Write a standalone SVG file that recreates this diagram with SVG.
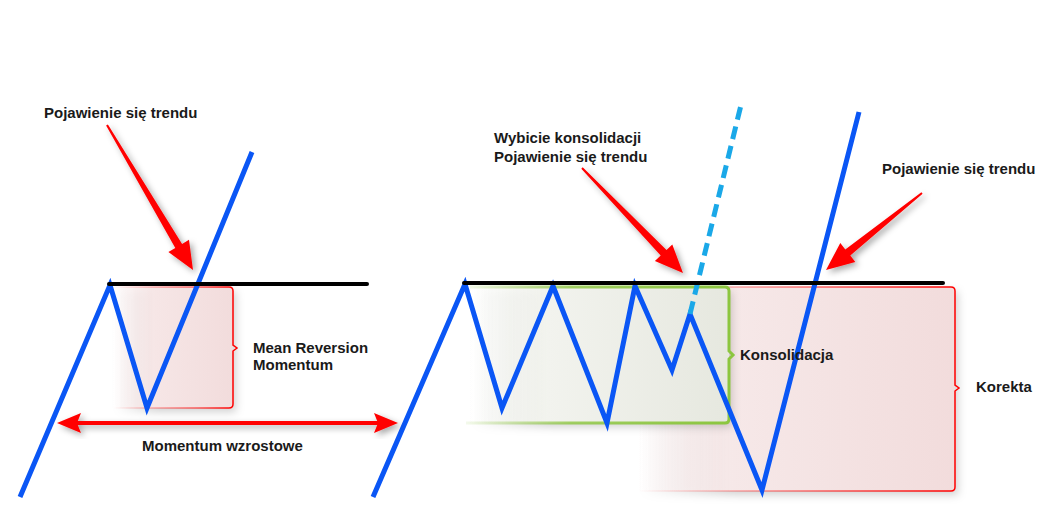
<svg xmlns="http://www.w3.org/2000/svg" width="1056" height="527" viewBox="0 0 1056 527">
<style>
.lbl{font-family:"Liberation Sans",Arial,sans-serif;font-weight:bold;font-size:15px;fill:#1a1a1a}
.blue{fill:none;stroke:#0a56f5;stroke-width:5;stroke-linejoin:miter;stroke-linecap:butt}
.blk{stroke:#000;stroke-width:4;stroke-linecap:round}
.redarrow{fill:#ff0000}
</style>
<defs>
<filter id="sh" x="-20%" y="-20%" width="150%" height="150%">
<feDropShadow dx="3" dy="3" stdDeviation="3" flood-color="#000" flood-opacity="0.35"/>
</filter>
<filter id="bsh" x="-10%" y="-10%" width="130%" height="130%">
<feDropShadow dx="3" dy="4" stdDeviation="4" flood-color="#000" flood-opacity="0.18"/>
</filter>
<linearGradient id="pinkL" gradientUnits="userSpaceOnUse" x1="113" y1="0" x2="233" y2="0">
<stop offset="0" stop-color="#f3dede" stop-opacity="0"/><stop offset="0.35" stop-color="#f6e6e6"/><stop offset="1" stop-color="#f2dcdc"/>
</linearGradient>
<linearGradient id="pinkLs" gradientUnits="userSpaceOnUse" x1="113" y1="0" x2="233" y2="0">
<stop offset="0" stop-color="#ff0000" stop-opacity="0"/><stop offset="0.7" stop-color="#ff0000" stop-opacity="0.6"/><stop offset="1" stop-color="#ff0000"/>
</linearGradient>
<linearGradient id="pinkK" gradientUnits="userSpaceOnUse" x1="638" y1="0" x2="955" y2="0">
<stop offset="0" stop-color="#f3dede" stop-opacity="0"/><stop offset="0.3" stop-color="#f6e8e8"/><stop offset="1" stop-color="#f2dcdc"/>
</linearGradient>
<linearGradient id="pinkKs" gradientUnits="userSpaceOnUse" x1="638" y1="0" x2="955" y2="0">
<stop offset="0" stop-color="#ff0000" stop-opacity="0"/><stop offset="0.5" stop-color="#ff0000" stop-opacity="0.5"/><stop offset="1" stop-color="#ff0000"/>
</linearGradient>
<linearGradient id="greenF" gradientUnits="userSpaceOnUse" x1="470" y1="0" x2="729" y2="0">
<stop offset="0" stop-color="#eef0e8" stop-opacity="0"/><stop offset="0.3" stop-color="#f2f3ee"/><stop offset="1" stop-color="#e6e8df"/>
</linearGradient>
<linearGradient id="greenS" gradientUnits="userSpaceOnUse" x1="466" y1="0" x2="729" y2="0">
<stop offset="0" stop-color="#8cc63f" stop-opacity="0.1"/><stop offset="0.4" stop-color="#8cc63f" stop-opacity="0.8"/><stop offset="1" stop-color="#8cc63f"/>
</linearGradient>
</defs>
<rect width="1056" height="527" fill="#fff"/>

<g id="box-mean-reversion">
<path d="M113,287 H229 Q233,287 233,291 V408 H113 Z" fill="url(#pinkL)" filter="url(#bsh)"/>
<path d="M113,287 H229 Q233,287 233,291 V345 L237,348 L233,351 V404 Q233,408 229,408 H113" fill="none" stroke="url(#pinkLs)" stroke-width="1.5"/>
</g>

<g id="box-korekta">
<path d="M638,287 H951 Q955,287 955,291 V491 H638 Z" fill="url(#pinkK)" filter="url(#bsh)"/>
<path d="M638,287 H951 Q955,287 955,291 V385 L959,388 L955,391 V487 Q955,491 951,491 H638" fill="none" stroke="url(#pinkKs)" stroke-width="1.5"/>
</g>

<g id="box-konsolidacja">
<path d="M470,287 H725 Q729,287 729,291 V423 H470 Z" fill="url(#greenF)" filter="url(#bsh)"/>
<path d="M470,287 H725 Q729,287 729,291 V351 L733,355 L729,359 V419 Q729,423 725,423 H466" fill="none" stroke="url(#greenS)" stroke-width="3"/>
</g>

<g id="price-lines">
<polyline class="blue" points="20,497 110,285 147,408 252,152"/>
<polyline class="blue" points="373,497 465,284 502,408 553,286 607,423 635,286 672,370 690,314 762,490 859,112"/>
<line x1="690" y1="314" x2="741" y2="105" stroke="#1aa8e8" stroke-width="5" stroke-dasharray="13 7"/>
</g>

<g id="resistance-lines">
<line class="blk" x1="109" y1="284" x2="367" y2="284"/>
<line class="blk" x1="464" y1="283" x2="943" y2="283"/>
</g>

<g id="connectors">
<polygon class="redarrow" filter="url(#sh)" points="106.1,125.5 175.3,247.9 168.4,252 193,270 189,239.8 182.1,243.9 107.9,124.5"/>
<polygon class="redarrow" filter="url(#sh)" points="581.3,168.7 660.7,255.6 654.9,261.1 683,273 672.3,244.5 666.5,250 582.7,167.3"/>
<polygon class="redarrow" filter="url(#sh)" points="921.4,192.2 845.3,249.4 840.3,243.1 826,270 855.3,261.9 850.3,255.6 922.6,193.8"/>
<g id="momentum-arrow" filter="url(#sh)">
<line x1="76" y1="423" x2="379" y2="423" stroke="#ff0000" stroke-width="4"/>
<polygon class="redarrow" points="57,423 81,413 77,423 81,433"/>
<polygon class="redarrow" points="398,423 374,413 378,423 374,433"/>
</g>
</g>

<g id="labels">
<text class="lbl" x="44" y="118">Pojawienie się trendu</text>
<text class="lbl" x="253" y="353">Mean Reversion</text>
<text class="lbl" x="253" y="370">Momentum</text>
<text class="lbl" x="142" y="451">Momentum wzrostowe</text>
<text class="lbl" x="494" y="143">Wybicie konsolidacji</text>
<text class="lbl" x="494" y="162">Pojawienie się trendu</text>
<text class="lbl" x="740" y="360">Konsolidacja</text>
<text class="lbl" x="882" y="174">Pojawienie się trendu</text>
<text class="lbl" x="976" y="392">Korekta</text>
</g>
</svg>
